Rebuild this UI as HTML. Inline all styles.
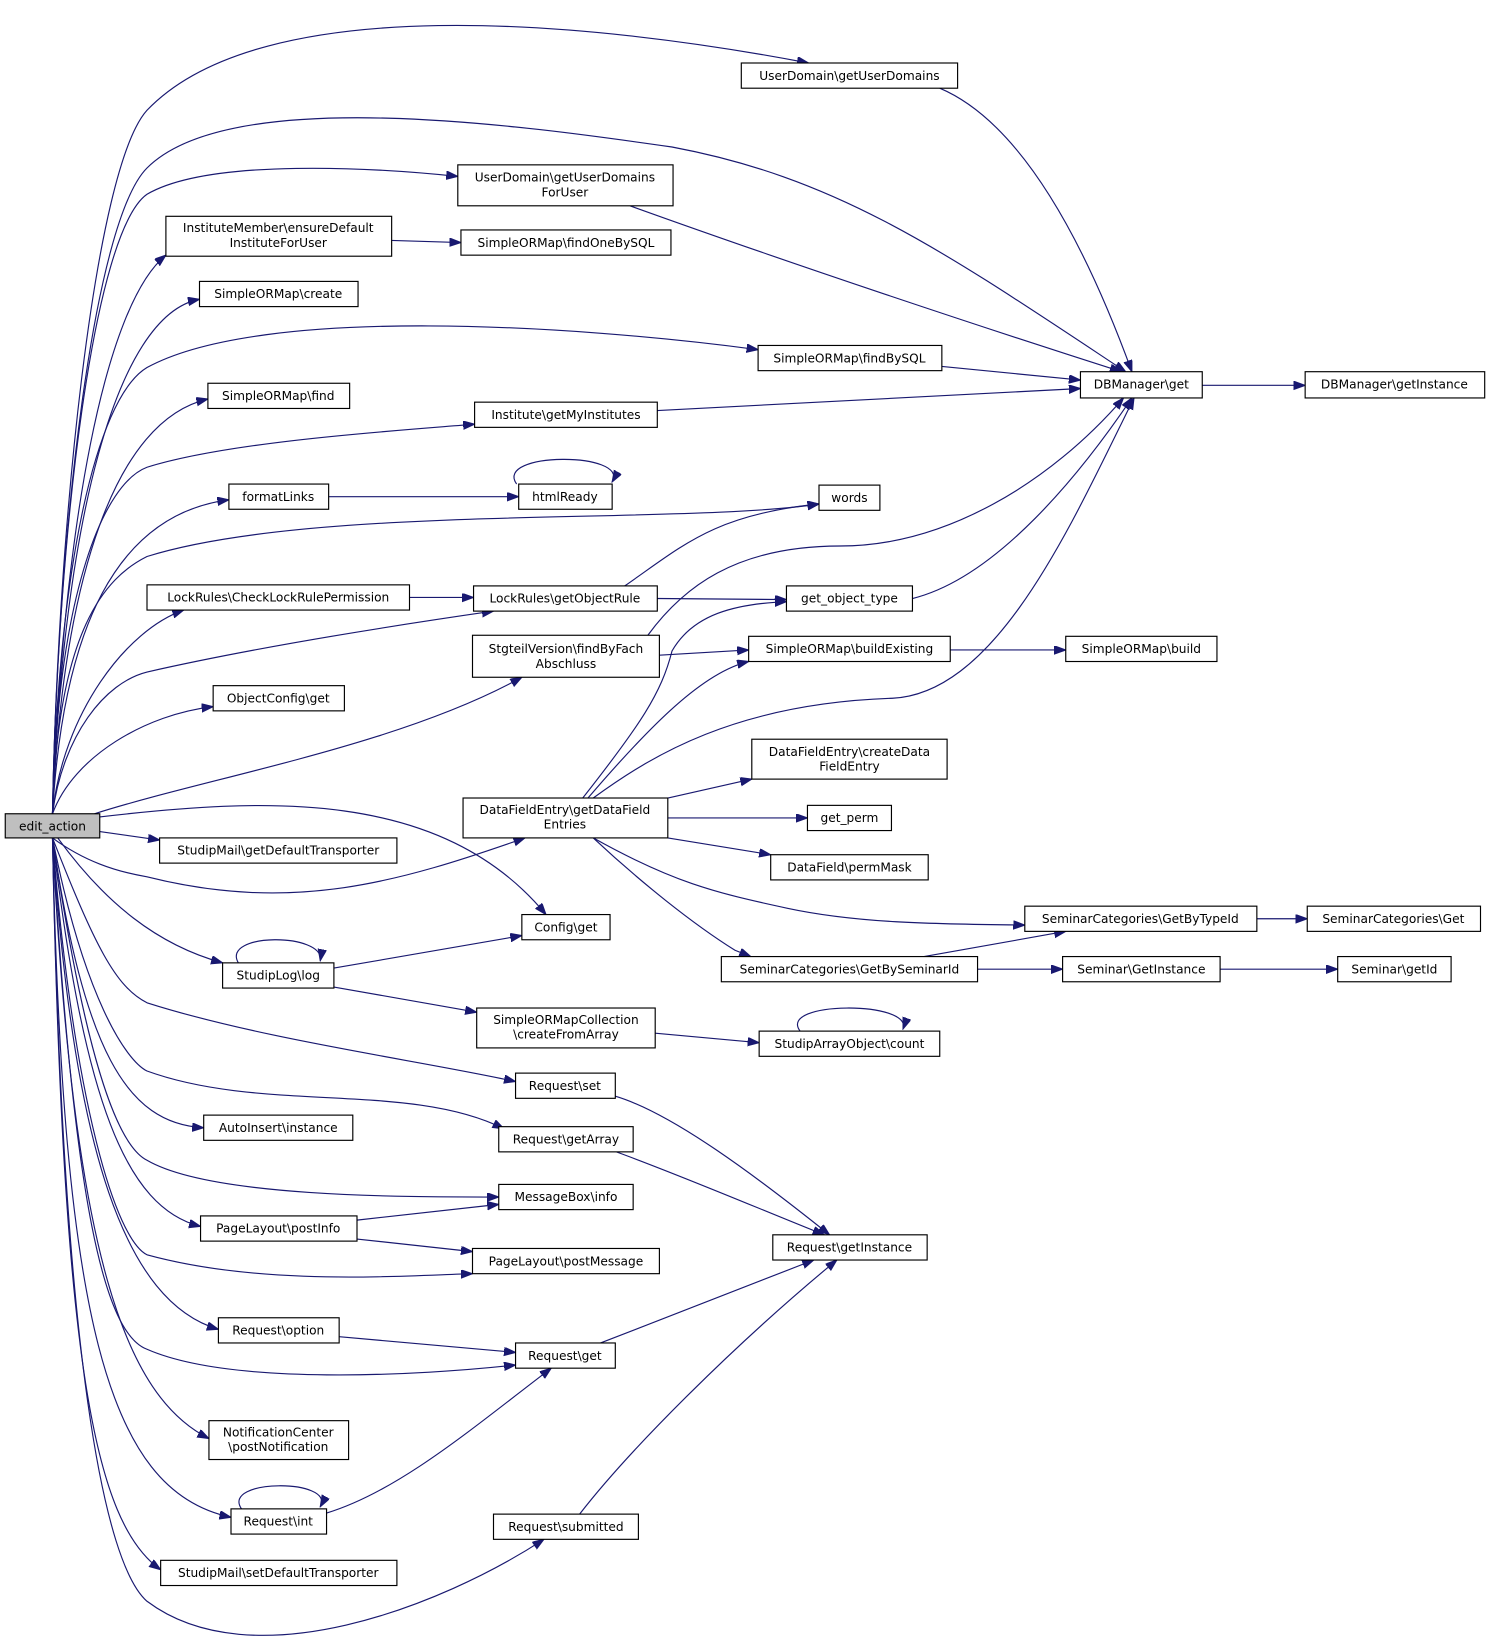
<!DOCTYPE html>
<html><head><meta charset="utf-8"><style>
html,body{margin:0;padding:0;background:#fff;}
svg{display:block;}
text{font-family:"DejaVu Sans","Liberation Sans",sans-serif;font-size:11.6px;fill:#000;}
.e{fill:none;stroke:#191970;stroke-width:1.1;marker-end:url(#a);}
.n{fill:#fff;stroke:#000;stroke-width:1.1;}
</style></head><body>
<svg width="1491" height="1648" viewBox="0 0 1420 1569.5" preserveAspectRatio="none" xmlns="http://www.w3.org/2000/svg">
<defs><marker id="a" markerUnits="userSpaceOnUse" markerWidth="12" markerHeight="9" refX="11" refY="4" orient="auto"><path d="M0,0 L11,4 L0,8 z" fill="#191970" stroke="#191970"/></marker></defs>
<g>
<path class="e" d="M50,775 C55,500 90,160 140,105 C250,-10 560,20 770,60"/>
<path class="e" d="M50,775 C55,500 90,210 140,160 C220,80 500,120 640,140 C800,170 900,240 1072,354"/>
<path class="e" d="M50,775 C55,500 90,220 140,185 C200,150 360,160 436,168"/>
<path class="e" d="M50,775 C60,500 100,290 158,243"/>
<path class="e" d="M50,775 C60,500 110,300 190,285"/>
<path class="e" d="M50,775 C55,550 90,380 140,350 C250,290 550,310 722,333"/>
<path class="e" d="M50,775 C60,550 110,400 198,380"/>
<path class="e" d="M50,775 C55,560 100,460 140,445 C220,420 380,410 452,404"/>
<path class="e" d="M50,775 C60,600 110,490 218,476"/>
<path class="e" d="M50,775 C55,600 100,550 140,530 C300,480 650,500 780,480"/>
<path class="e" d="M50,775 C60,680 120,600 175,581"/>
<path class="e" d="M50,775 C60,700 100,650 140,640 C250,615 380,595 470,582"/>
<path class="e" d="M50,775 C70,720 140,680 203,673"/>
<path class="e" d="M90,775 C200,740 380,710 497,645"/>
<path class="e" d="M95,778 C250,760 420,750 520,871"/>
<path class="e" d="M50,798 C80,820 110,830 140,835 C280,870 380,840 500,798"/>
<path class="e" d="M95,792 L152,800"/>
<path class="e" d="M55,798 C100,860 150,900 212,917"/>
<path class="e" d="M50,798 C90,900 110,940 140,955 C250,990 400,1010 491,1030"/>
<path class="e" d="M50,798 C80,950 120,1010 140,1020 C250,1060 390,1030 480,1075"/>
<path class="e" d="M50,798 C80,1000 120,1070 194,1074"/>
<path class="e" d="M50,798 C80,1000 110,1090 140,1105 C200,1140 380,1140 475,1140"/>
<path class="e" d="M50,798 C80,1050 120,1150 191,1168"/>
<path class="e" d="M50,798 C70,1050 110,1180 140,1195 C250,1225 380,1215 450,1213"/>
<path class="e" d="M50,798 C70,1100 120,1240 208,1266"/>
<path class="e" d="M50,798 C70,1150 100,1270 140,1285 C220,1320 400,1310 491,1300"/>
<path class="e" d="M50,798 C70,1200 120,1330 199,1370"/>
<path class="e" d="M50,798 C60,1250 100,1420 220,1445"/>
<path class="e" d="M50,798 C60,1300 90,1450 153,1495"/>
<path class="e" d="M50,798 C60,1300 100,1490 140,1525 C240,1600 420,1530 518,1466"/>
<path class="e" d="M895,84 C980,120 1040,250 1078,354"/>
<path class="e" d="M600,196 C750,250 930,310 1068,354"/>
<path class="e" d="M373,229 L439,231"/>
<path class="e" d="M897,349 L1029,362"/>
<path class="e" d="M626,391 L1029,370"/>
<path class="e" d="M1145,367 L1243,367"/>
<path class="e" d="M313,473 L494,473"/>
<path class="e" d="M492,461 C470,430 600,430 583,459"/>
<path class="e" d="M390,569 L451,569"/>
<path class="e" d="M595,558 C650,520 680,490 780,480"/>
<path class="e" d="M626,570 L749,571"/>
<path class="e" d="M869,570 C950,550 1030,450 1078,379"/>
<path class="e" d="M617,605 C650,560 700,520 800,520 C900,520 1000,460 1070,379"/>
<path class="e" d="M628,624 L713,619"/>
<path class="e" d="M905,619 L1015,619"/>
<path class="e" d="M555,760 C610,690 630,660 640,620 C660,585 700,575 749,573"/>
<path class="e" d="M560,760 C620,690 670,640 713,630"/>
<path class="e" d="M565,760 C620,720 700,670 850,665 C950,660 1020,500 1080,379"/>
<path class="e" d="M636,760 L716,742"/>
<path class="e" d="M636,779 L769,779"/>
<path class="e" d="M636,798 L734,814"/>
<path class="e" d="M565,798 C640,840 680,850 750,865 C820,880 900,880 976,881"/>
<path class="e" d="M565,798 C610,840 660,880 700,905 L715,911"/>
<path class="e" d="M880,911 L1015,887"/>
<path class="e" d="M1197,875 L1245,875"/>
<path class="e" d="M931,923 L1012,923"/>
<path class="e" d="M1162,923 L1274,923"/>
<path class="e" d="M227,917 C210,888 310,888 305,915"/>
<path class="e" d="M318,922 L497,891"/>
<path class="e" d="M318,940 L454,964"/>
<path class="e" d="M624,984 L723,993"/>
<path class="e" d="M762,982 C740,953 870,953 860,980"/>
<path class="e" d="M586,1044 C640,1060 720,1120 790,1176"/>
<path class="e" d="M587,1097 C650,1120 720,1150 785,1176"/>
<path class="e" d="M340,1162 L475,1147"/>
<path class="e" d="M340,1180 L450,1192"/>
<path class="e" d="M323,1273 L491,1288"/>
<path class="e" d="M572,1279 L775,1200"/>
<path class="e" d="M230,1437 C210,1408 320,1408 305,1435"/>
<path class="e" d="M311,1441 C380,1420 450,1360 525,1303"/>
<path class="e" d="M552,1442 C600,1380 700,1280 797,1200"/>
</g>
<g text-anchor="middle">
<rect class="n" x="706" y="60" width="206" height="24"/><text x="809" y="76">UserDomain\getUserDomains</text>
<rect class="n" x="436" y="157" width="205" height="39"/><text x="538" y="173">UserDomain\getUserDomains</text><text x="538" y="187">ForUser</text>
<rect class="n" x="158" y="206" width="215" height="38"/><text x="265" y="221">InstituteMember\ensureDefault</text><text x="265" y="235">InstituteForUser</text>
<rect class="n" x="439" y="219" width="200" height="24"/><text x="539" y="235">SimpleORMap\findOneBySQL</text>
<rect class="n" x="190" y="268" width="151" height="24"/><text x="265" y="284">SimpleORMap\create</text>
<rect class="n" x="722" y="329" width="175" height="24"/><text x="809" y="345">SimpleORMap\findBySQL</text>
<rect class="n" x="1029" y="354" width="116" height="25"/><text x="1087" y="370">DBManager\get</text>
<rect class="n" x="1243" y="354" width="171" height="25"/><text x="1328" y="370">DBManager\getInstance</text>
<rect class="n" x="198" y="365" width="135" height="24"/><text x="265" y="381">SimpleORMap\find</text>
<rect class="n" x="452" y="383" width="174" height="24"/><text x="539" y="399">Institute\getMyInstitutes</text>
<rect class="n" x="218" y="461" width="95" height="24"/><text x="265" y="477">formatLinks</text>
<rect class="n" x="494" y="461" width="89" height="24"/><text x="538" y="477">htmlReady</text>
<rect class="n" x="780" y="462" width="58" height="24"/><text x="809" y="478">words</text>
<rect class="n" x="140" y="557" width="250" height="24"/><text x="265" y="573">LockRules\CheckLockRulePermission</text>
<rect class="n" x="451" y="558" width="175" height="24"/><text x="538" y="574">LockRules\getObjectRule</text>
<rect class="n" x="749" y="558" width="120" height="24"/><text x="809" y="574">get_object_type</text>
<rect class="n" x="450" y="605" width="178" height="40"/><text x="539" y="622">StgteilVersion\findByFach</text><text x="539" y="636">Abschluss</text>
<rect class="n" x="713" y="606" width="192" height="24"/><text x="809" y="622">SimpleORMap\buildExisting</text>
<rect class="n" x="1015" y="606" width="144" height="24"/><text x="1087" y="622">SimpleORMap\build</text>
<rect class="n" x="203" y="653" width="125" height="24"/><text x="265" y="669">ObjectConfig\get</text>
<rect class="n" x="716" y="704" width="186" height="38"/><text x="809" y="720">DataFieldEntry\createData</text><text x="809" y="734">FieldEntry</text>
<rect x="5" y="775" width="90" height="23" fill="#bfbfbf" stroke="#000" stroke-width="1.1"/><text x="50" y="791">edit_action</text>
<rect class="n" x="441" y="760" width="195" height="38"/><text x="538" y="775">DataFieldEntry\getDataField</text><text x="538" y="789">Entries</text>
<rect class="n" x="769" y="767" width="80" height="24"/><text x="809" y="783">get_perm</text>
<rect class="n" x="152" y="798" width="226" height="24"/><text x="265" y="814">StudipMail\getDefaultTransporter</text>
<rect class="n" x="734" y="814" width="150" height="24"/><text x="809" y="830">DataField\permMask</text>
<rect class="n" x="497" y="871" width="84" height="24"/><text x="539" y="887">Config\get</text>
<rect class="n" x="976" y="863" width="221" height="24"/><text x="1086" y="879">SeminarCategories\GetByTypeId</text>
<rect class="n" x="1245" y="863" width="165" height="24"/><text x="1327" y="879">SeminarCategories\Get</text>
<rect class="n" x="212" y="917" width="106" height="24"/><text x="265" y="933">StudipLog\log</text>
<rect class="n" x="687" y="911" width="244" height="24"/><text x="809" y="927">SeminarCategories\GetBySeminarId</text>
<rect class="n" x="1012" y="911" width="150" height="24"/><text x="1087" y="927">Seminar\GetInstance</text>
<rect class="n" x="1274" y="911" width="108" height="24"/><text x="1328" y="927">Seminar\getId</text>
<rect class="n" x="454" y="960" width="170" height="38"/><text x="539" y="975">SimpleORMapCollection</text><text x="539" y="989">\createFromArray</text>
<rect class="n" x="723" y="982" width="172" height="24"/><text x="809" y="998">StudipArrayObject\count</text>
<rect class="n" x="491" y="1022" width="95" height="24"/><text x="538" y="1038">Request\set</text>
<rect class="n" x="194" y="1062" width="142" height="24"/><text x="265" y="1078">AutoInsert\instance</text>
<rect class="n" x="475" y="1073" width="128" height="24"/><text x="539" y="1089">Request\getArray</text>
<rect class="n" x="475" y="1128" width="128" height="24"/><text x="539" y="1144">MessageBox\info</text>
<rect class="n" x="191" y="1158" width="149" height="24"/><text x="265" y="1174">PageLayout\postInfo</text>
<rect class="n" x="736" y="1176" width="147" height="24"/><text x="809" y="1192">Request\getInstance</text>
<rect class="n" x="450" y="1189" width="178" height="24"/><text x="539" y="1205">PageLayout\postMessage</text>
<rect class="n" x="208" y="1255" width="115" height="24"/><text x="265" y="1271">Request\option</text>
<rect class="n" x="491" y="1279" width="95" height="24"/><text x="538" y="1295">Request\get</text>
<rect class="n" x="199" y="1353" width="133" height="37"/><text x="265" y="1368">NotificationCenter</text><text x="265" y="1382">\postNotification</text>
<rect class="n" x="220" y="1437" width="91" height="24"/><text x="265" y="1453">Request\int</text>
<rect class="n" x="470" y="1442" width="138" height="24"/><text x="539" y="1458">Request\submitted</text>
<rect class="n" x="153" y="1486" width="225" height="24"/><text x="265" y="1502">StudipMail\setDefaultTransporter</text>
</g>
</svg>
</body></html>
